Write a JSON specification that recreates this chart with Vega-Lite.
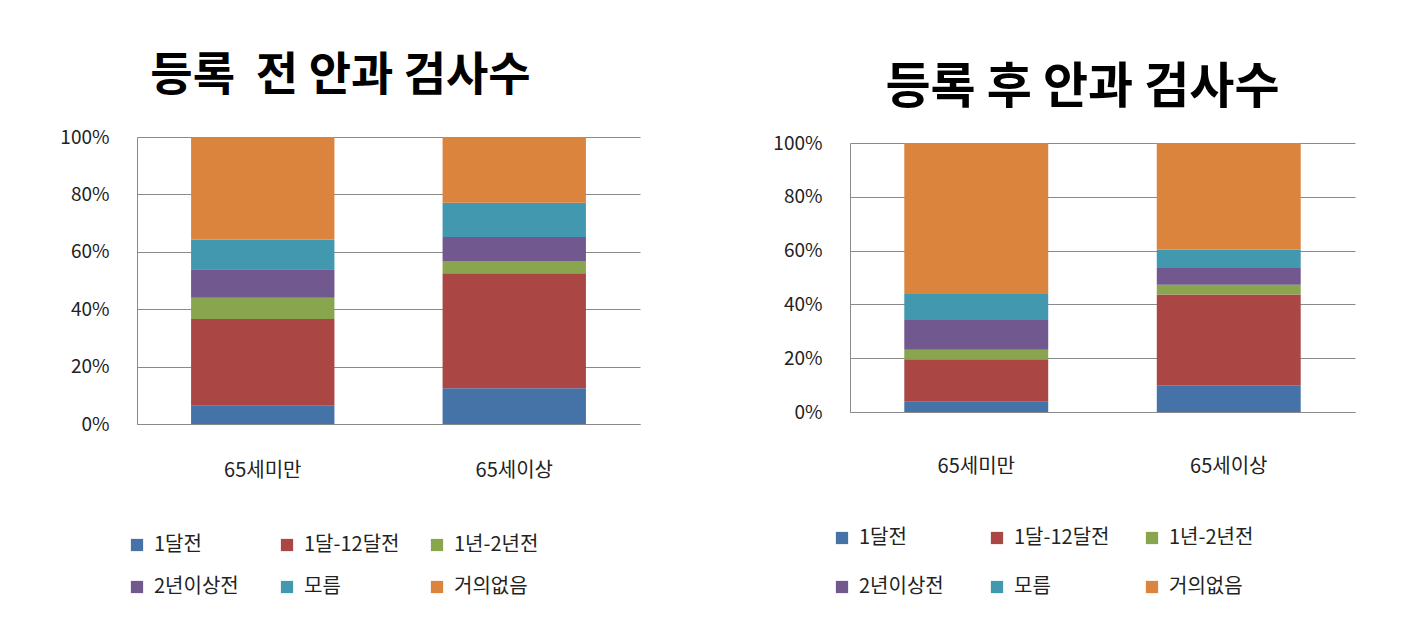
{
  "$schema": "https://vega.github.io/schema/vega-lite/v6.json",
  "background": "white",
  "padding": {"left": 5, "top": 53, "right": 5, "bottom": 5},
  "config": {
    "font": "Noto Sans CJK KR",
    "view": {"stroke": null},
    "axis": {"labelFont": "Noto Sans CJK KR", "labelColor": "#222", "ticks": false, "domainColor": "#8a8a8a", "gridColor": "#8a8a8a", "gridWidth": 1, "domainWidth": 1},
    "legend": {"labelFont": "Noto Sans CJK KR", "labelColor": "#222", "labelFontSize": 20, "symbolType": "square", "symbolSize": 150, "symbolStrokeWidth": 0, "labelOffset": 7, "columns": 3, "gridAlign": "all", "orient": "none", "direction": "horizontal", "title": null},
    "title": {"font": "Noto Sans CJK KR", "fontWeight": "bold", "color": "#000", "anchor": "middle", "frame": "group"},
    "bar": {"stroke": null}
  },
  "datasets": {
    "before": [
      {"group": "65세미만", "cat": "1달전", "ord": 1, "value": 6.4},
      {"group": "65세미만", "cat": "1달-12달전", "ord": 2, "value": 30.2},
      {"group": "65세미만", "cat": "1년-2년전", "ord": 3, "value": 7.4},
      {"group": "65세미만", "cat": "2년이상전", "ord": 4, "value": 9.9},
      {"group": "65세미만", "cat": "모름", "ord": 5, "value": 10.4},
      {"group": "65세미만", "cat": "거의없음", "ord": 6, "value": 35.7},
      {"group": "65세이상", "cat": "1달전", "ord": 1, "value": 12.5},
      {"group": "65세이상", "cat": "1달-12달전", "ord": 2, "value": 40.0},
      {"group": "65세이상", "cat": "1년-2년전", "ord": 3, "value": 4.3},
      {"group": "65세이상", "cat": "2년이상전", "ord": 4, "value": 8.4},
      {"group": "65세이상", "cat": "모름", "ord": 5, "value": 11.9},
      {"group": "65세이상", "cat": "거의없음", "ord": 6, "value": 22.9}
    ],
    "after": [
      {"group": "65세미만", "cat": "1달전", "ord": 1, "value": 3.8},
      {"group": "65세미만", "cat": "1달-12달전", "ord": 2, "value": 15.8},
      {"group": "65세미만", "cat": "1년-2년전", "ord": 3, "value": 3.5},
      {"group": "65세미만", "cat": "2년이상전", "ord": 4, "value": 11.1},
      {"group": "65세미만", "cat": "모름", "ord": 5, "value": 9.7},
      {"group": "65세미만", "cat": "거의없음", "ord": 6, "value": 56.1},
      {"group": "65세이상", "cat": "1달전", "ord": 1, "value": 9.9},
      {"group": "65세이상", "cat": "1달-12달전", "ord": 2, "value": 33.8},
      {"group": "65세이상", "cat": "1년-2년전", "ord": 3, "value": 3.6},
      {"group": "65세이상", "cat": "2년이상전", "ord": 4, "value": 6.2},
      {"group": "65세이상", "cat": "모름", "ord": 5, "value": 6.8},
      {"group": "65세이상", "cat": "거의없음", "ord": 6, "value": 39.7}
    ]
  },
  "spacing": 80,
  "resolve": {"scale": {"color": "independent"}},
  "hconcat": [
    {
      "width": 503,
      "height": 287,
      "data": {"name": "before"},
      "title": {"text": "등록\u00a0\u00a0전 안과 검사수", "fontSize": 46, "dx": -48, "offset": 28},
      "mark": {"type": "bar"},
      "encoding": {
        "x": {"field": "group", "type": "nominal", "sort": ["65세미만", "65세이상"],
              "scale": {"paddingInner": 0.43, "paddingOuter": 0.215},
              "axis": {"title": null, "labelAngle": 0, "labelFontSize": 20, "labelPadding": 36}},
        "y": {"field": "value", "type": "quantitative", "stack": "normalize",
              "axis": {"title": null, "values": [0, 0.2, 0.4, 0.6, 0.8, 1], "format": ".0%", "labelFontSize": 19, "labelPadding": 28, "minExtent": 132, "grid": true}},
        "color": {"field": "cat", "type": "nominal",
                  "scale": {"domain": ["1달전", "1달-12달전", "1년-2년전", "2년이상전", "모름", "거의없음"],
                            "range": ["#4572A7", "#AA4643", "#89A54E", "#71588F", "#4198AF", "#DB843D"]},
                  "legend": {"legendX": -10, "legendY": 398, "rowPadding": 22, "columnPadding": 27}},
        "order": {"field": "ord", "type": "quantitative"}
      }
    },
    {
      "width": 505,
      "height": 275,
      "data": {"name": "after"},
      "title": {"text": "등록 후 안과 검사수", "fontSize": 49, "dx": -20, "offset": 21},
      "mark": {"type": "bar"},
      "encoding": {
        "x": {"field": "group", "type": "nominal", "sort": ["65세미만", "65세이상"],
              "scale": {"paddingInner": 0.43, "paddingOuter": 0.215},
              "axis": {"title": null, "labelAngle": 0, "labelFontSize": 20, "labelPadding": 44}},
        "y": {"field": "value", "type": "quantitative", "stack": "normalize",
              "scale": {"range": [275, 6]},
              "axis": {"title": null, "values": [0, 0.2, 0.4, 0.6, 0.8, 1], "format": ".0%", "labelFontSize": 19, "labelPadding": 28, "minExtent": 130, "grid": true}},
        "color": {"field": "cat", "type": "nominal",
                  "scale": {"domain": ["1달전", "1달-12달전", "1년-2년전", "2년이상전", "모름", "거의없음"],
                            "range": ["#4572A7", "#AA4643", "#89A54E", "#71588F", "#4198AF", "#DB843D"]},
                  "legend": {"legendX": -18, "legendY": 391, "rowPadding": 29, "columnPadding": 32}},
        "order": {"field": "ord", "type": "quantitative"}
      }
    }
  ]
}
